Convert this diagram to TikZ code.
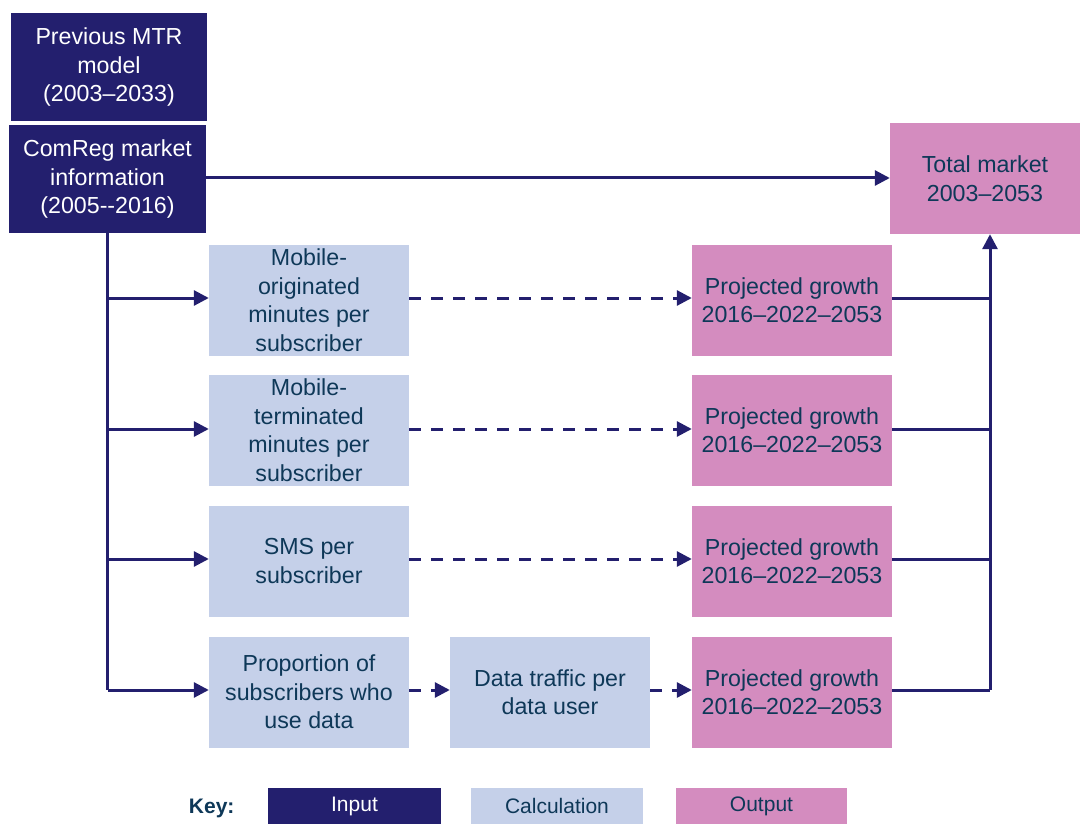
\documentclass[tikz,border=0pt]{standalone}
\usepackage{fontspec}
\setmainfont{Liberation Sans}
\usetikzlibrary{arrows.meta}
\definecolor{navy}{RGB}{35,31,110}
\definecolor{calc}{RGB}{197,208,233}
\definecolor{outp}{RGB}{212,140,191}
\definecolor{txt}{RGB}{14,56,88}
\begin{document}
\begin{tikzpicture}[x=1pt,y=-1pt,
  box/.style={inner sep=0pt,align=center,font=\fontsize{23.2}{28.5}\selectfont},
  inbox/.style={box,fill=navy,text=white},
  calcbox/.style={box,fill=calc,text=txt,minimum width=200pt,minimum height=111pt},
  outbox/.style={box,fill=outp,text=txt,minimum width=200pt,minimum height=111pt},
  conn/.style={draw=navy,line width=3pt},
  arr/.style={conn,-{Triangle[length=15pt,width=15pt]}},
  darr/.style={arr,dash pattern=on 12pt off 10pt}]
\useasboundingbox (0,0) rectangle (1080,824);
% inputs
\node[inbox,minimum width=196pt,minimum height=108pt] (prev) at (109,67) {Previous MTR\\model\\(2003--2033)};
\node[inbox,minimum width=197pt,minimum height=108pt] (comreg) at (107.5,179) {ComReg market\\information\\(2005-{}-2016)};
\node[outbox,minimum width=190pt,minimum height=111pt] (total) at (985,178.5) {Total market\\2003--2053};
% calculations
\node[calcbox] (c1) at (309,300) {Mobile-\\originated\\minutes per\\subscriber};
\node[calcbox] (c2) at (309,430) {Mobile-\\terminated\\minutes per\\subscriber};
\node[calcbox] (c3) at (309,561) {SMS per\\subscriber};
\node[calcbox] (c4) at (309,692) {Proportion of\\subscribers who\\use data};
\node[calcbox] (c5) at (550,692) {Data traffic per\\data user};
% outputs
\node[outbox] (o1) at (792,300) {Projected growth\\2016--2022--2053};
\node[outbox] (o2) at (792,430) {Projected growth\\2016--2022--2053};
\node[outbox] (o3) at (792,561) {Projected growth\\2016--2022--2053};
\node[outbox] (o4) at (792,692) {Projected growth\\2016--2022--2053};
% junction coordinates
\coordinate (lb) at (107.5,690);
\coordinate (rb) at (990,690);
% connectors
\draw[arr] (0,178) ++(206,0) coordinate (ce) -- (ce -| total.west);
\draw[conn] (comreg.south) -- (lb);
\foreach \n/\y in {c1/298,c2/429,c3/559,c4/690}{\draw[arr] (lb |- 0,\y) -- (\n.west |- 0,\y);}
\draw[darr] (c1.east |- 0,298) -- (o1.west |- 0,298);
\draw[darr] (c2.east |- 0,429) -- (o2.west |- 0,429);
\draw[darr] (c3.east |- 0,559) -- (o3.west |- 0,559);
\draw[darr] (c4.east |- 0,690) -- (c5.west |- 0,690);
\draw[darr] (c5.east |- 0,690) -- (o4.west |- 0,690);
\foreach \n/\y in {o1/298,o2/429,o3/559,o4/690}{\draw[conn] (\n.east |- 0,\y) -- (rb |- 0,\y);}
\draw[arr] (rb) -- (total.south -| rb);
% key
\node[anchor=east,text=txt,font=\fontsize{21}{24}\bfseries] (key) at (238,808) {Key:};
\node[inbox,font=\fontsize{21}{24}\selectfont,minimum width=173pt,minimum height=36pt] (k1) at (354.5,806) {Input};
\node[box,fill=calc,text=txt,font=\fontsize{21}{24}\selectfont,minimum width=172pt,minimum height=36pt] (k2) at (557,806) {Calculation};
\node[box,fill=outp,text=txt,font=\fontsize{21}{24}\selectfont,minimum width=171pt,minimum height=36pt] (k3) at (761.5,806) {Output};
\end{tikzpicture}
\end{document}
